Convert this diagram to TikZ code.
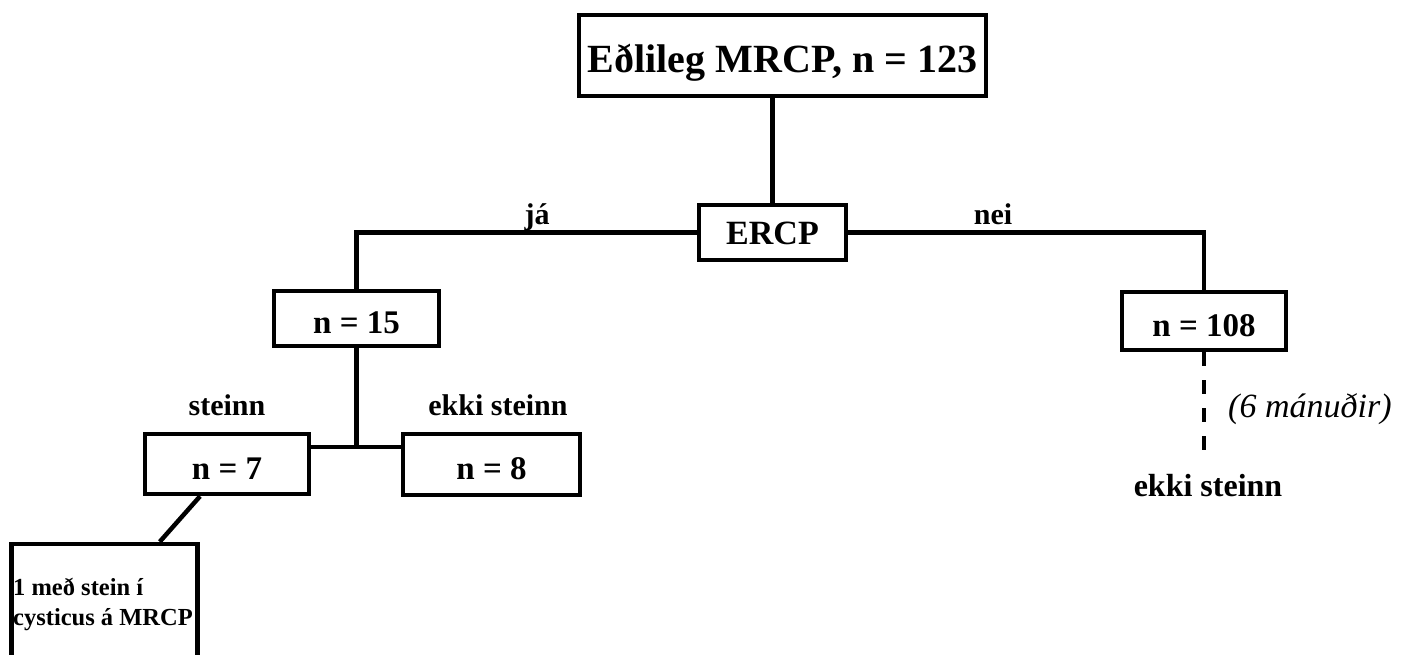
\documentclass[tikz,border=0pt]{standalone}
\usepackage{fontspec}
\setmainfont{Liberation Serif}
\usetikzlibrary{calc}
\begin{document}
\begin{tikzpicture}[x=1pt,y=-1pt,
  box/.style={draw, line width=4.5pt, inner sep=0pt, text height=30pt, text depth=0pt,
    font=\fontsize{33}{36}\selectfont\bfseries},
  conn/.style={line width=4.5pt},
  lbl/.style={inner sep=0pt, font=\fontsize{30}{33}\selectfont\bfseries, anchor=base}]
\useasboundingbox (0,0) rectangle (1408,654);

% boxes
\node[box, minimum width=407pt, minimum height=81pt, text height=33pt,
  font=\fontsize{40}{44}\selectfont\bfseries] (top) at (782.5,55.5) {Eðlileg MRCP, n = 123};
\node[box, minimum width=147pt, minimum height=55pt, text height=23pt,
  font=\fontsize{34}{36}\selectfont\bfseries] (ercp) at (772.5,232.5) {ERCP};
\node[box, minimum width=165pt, minimum height=55pt] (n15) at (356.5,318.5) {n = 15};
\node[box, minimum width=164pt, minimum height=58pt] (n108) at (1204,321) {n = 108};
\node[box, minimum width=164pt, minimum height=60pt] (n7) at (227,464) {n = 7};
\node[box, minimum width=177pt, minimum height=61pt] (n8) at (491.5,464.5) {n = 8};
\node[draw, line width=4.5pt, minimum width=186pt, minimum height=200pt, inner sep=0pt] (cyst) at (104.5,644) {};
\node[anchor=base west, align=left, inner sep=0pt, font=\fontsize{24.5}{30}\selectfont\bfseries] (cysttxt) at (13,625) {1 með stein í\\cysticus á MRCP};

% branch labels
\node[lbl] (ja) at (537,224) {já};
\node[lbl] (nei) at (993,224) {nei};
\node[lbl] (stn) at (227,415) {steinn};
\node[lbl] (ekki) at (498,415) {ekki steinn};
\node[lbl, font=\fontsize{34}{36}\selectfont\itshape, anchor=base west] (man) at (1228,417) {(6 mánuðir)};
\node[lbl, font=\fontsize{32}{34}\selectfont\bfseries] (ekki2) at (1208,496) {ekki steinn};

% connectors
\draw[conn] (ercp.north) -- (ercp.north |- top.south);
\draw[conn] (ercp.west) -| (n15.north);
\draw[conn] (ercp.east) -| (n108.north);
\coordinate (jn) at (356.5,447);
\draw[conn] (n15.south) -- (jn);
\draw[conn] (n7.east |- jn) -- (n8.west |- jn);
\draw[conn] ($(n7.south west)!0.34!(n7.south east)$) -- ($(cyst.north west)!0.79!(cyst.north east)$);
\coordinate (fu) at (1204,450);
\draw[conn, dash pattern=on 14pt off 14pt] (n108.south) -- (fu);
\end{tikzpicture}
\end{document}
